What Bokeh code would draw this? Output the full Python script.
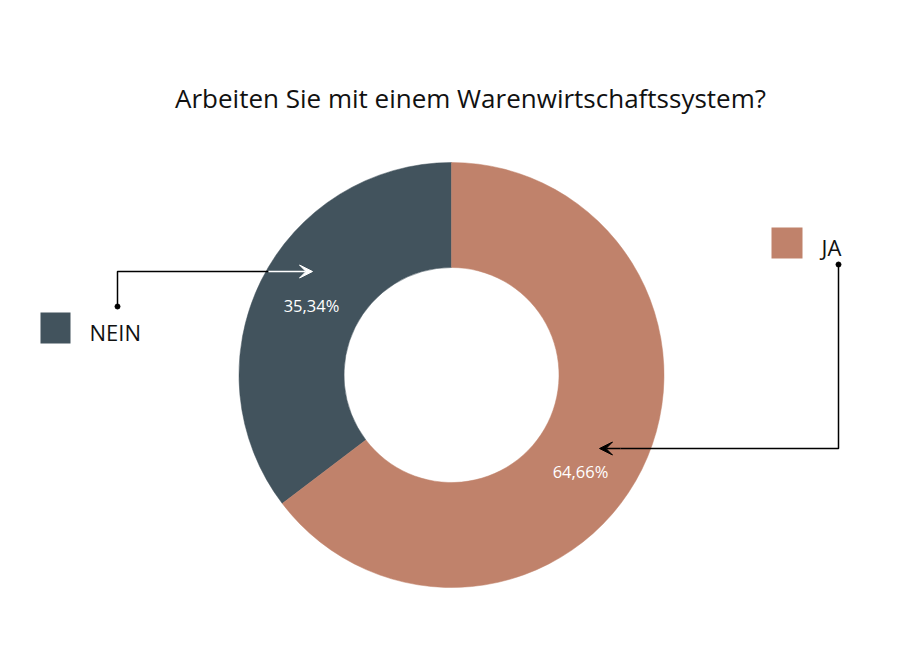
import math
from bokeh.plotting import figure
from bokeh.models import Range1d, Arrow, VeeHead, ColumnDataSource
from bokeh.core.properties import value
from bokeh.embed import file_html
from bokeh.resources import INLINE

W, H = 923, 661
title = "Arbeiten Sie mit einem Warenwirtschaftssystem?"
categories = ["NEIN", "JA"]
values = [35.34, 64.66]
labels = ["35,34%", "64,66%"]
colors = ["#42535d", "#c0826b"]

FONT = "Open Sans"

p = figure(width=W, height=H, x_range=Range1d(0, W), y_range=Range1d(0, H),
           output_backend="svg", toolbar_location=None, min_border=0)
p.axis.visible = False
p.grid.visible = False
p.outline_line_color = None
p.background_fill_color = "white"
p.border_fill_color = "white"

def Y(py):
    return H - py

cx, cy = 451, Y(374.5)
r_out, r_in = 212.5, 107.5

# wedges: start at 12 o'clock, NEIN counterclockwise, then JA
total = sum(values)
starts, ends = [], []
a = math.pi / 2
for v in values:
    starts.append(a)
    a += v / total * 2 * math.pi
    ends.append(a)
src = ColumnDataSource(dict(start=starts, end=ends, color=colors, cat=categories))
p.annular_wedge(x=cx, y=cy, inner_radius=r_in, outer_radius=r_out,
                start_angle="start", end_angle="end", color="color",
                line_color="color", line_width=0.5, source=src)

# title
p.text(x=[470], y=[Y(97)], text=[title], text_font=value(FONT), text_font_size="26px",
       text_align="center", text_baseline="middle", text_color="#111111")

# percentage labels
p.text(x=[311, 580], y=[Y(305), Y(471)], text=labels, text_font=value(FONT),
       text_font_size="16.5px", text_align="center", text_baseline="middle",
       text_color="white")

# legend
p.rect(x=[55, 786.5], y=[Y(327.5), Y(242.5)], width=[30, 31], height=[31, 31],
       color=[colors[0], colors[1]], line_color=None)
p.text(x=[89, 821], y=[Y(331), Y(246)], text=categories, text_font=value(FONT),
       text_font_size="22px", text_align="left", text_baseline="middle",
       text_color="#111111")

# NEIN arrow
p.line(x=[117, 117, 268], y=[Y(306), Y(271), Y(271)], line_color="black", line_width=1.5)
p.add_layout(Arrow(end=VeeHead(size=13, fill_color="white", line_color="white"),
                   x_start=268, y_start=Y(271), x_end=312, y_end=Y(271),
                   line_color="white", line_width=1.5))
p.scatter(x=[117], y=[Y(306)], size=5, color="black")

# JA arrow
p.line(x=[838, 838, 620], y=[Y(264), Y(448), Y(448)], line_color="black", line_width=1.5)
p.add_layout(Arrow(end=VeeHead(size=13, fill_color="black", line_color="black"),
                   x_start=620, y_start=Y(448), x_end=599, y_end=Y(448),
                   line_color="black", line_width=1.5))
p.scatter(x=[838], y=[Y(264)], size=5, color="black")

open("out.html", "w").write(file_html(p, INLINE))
